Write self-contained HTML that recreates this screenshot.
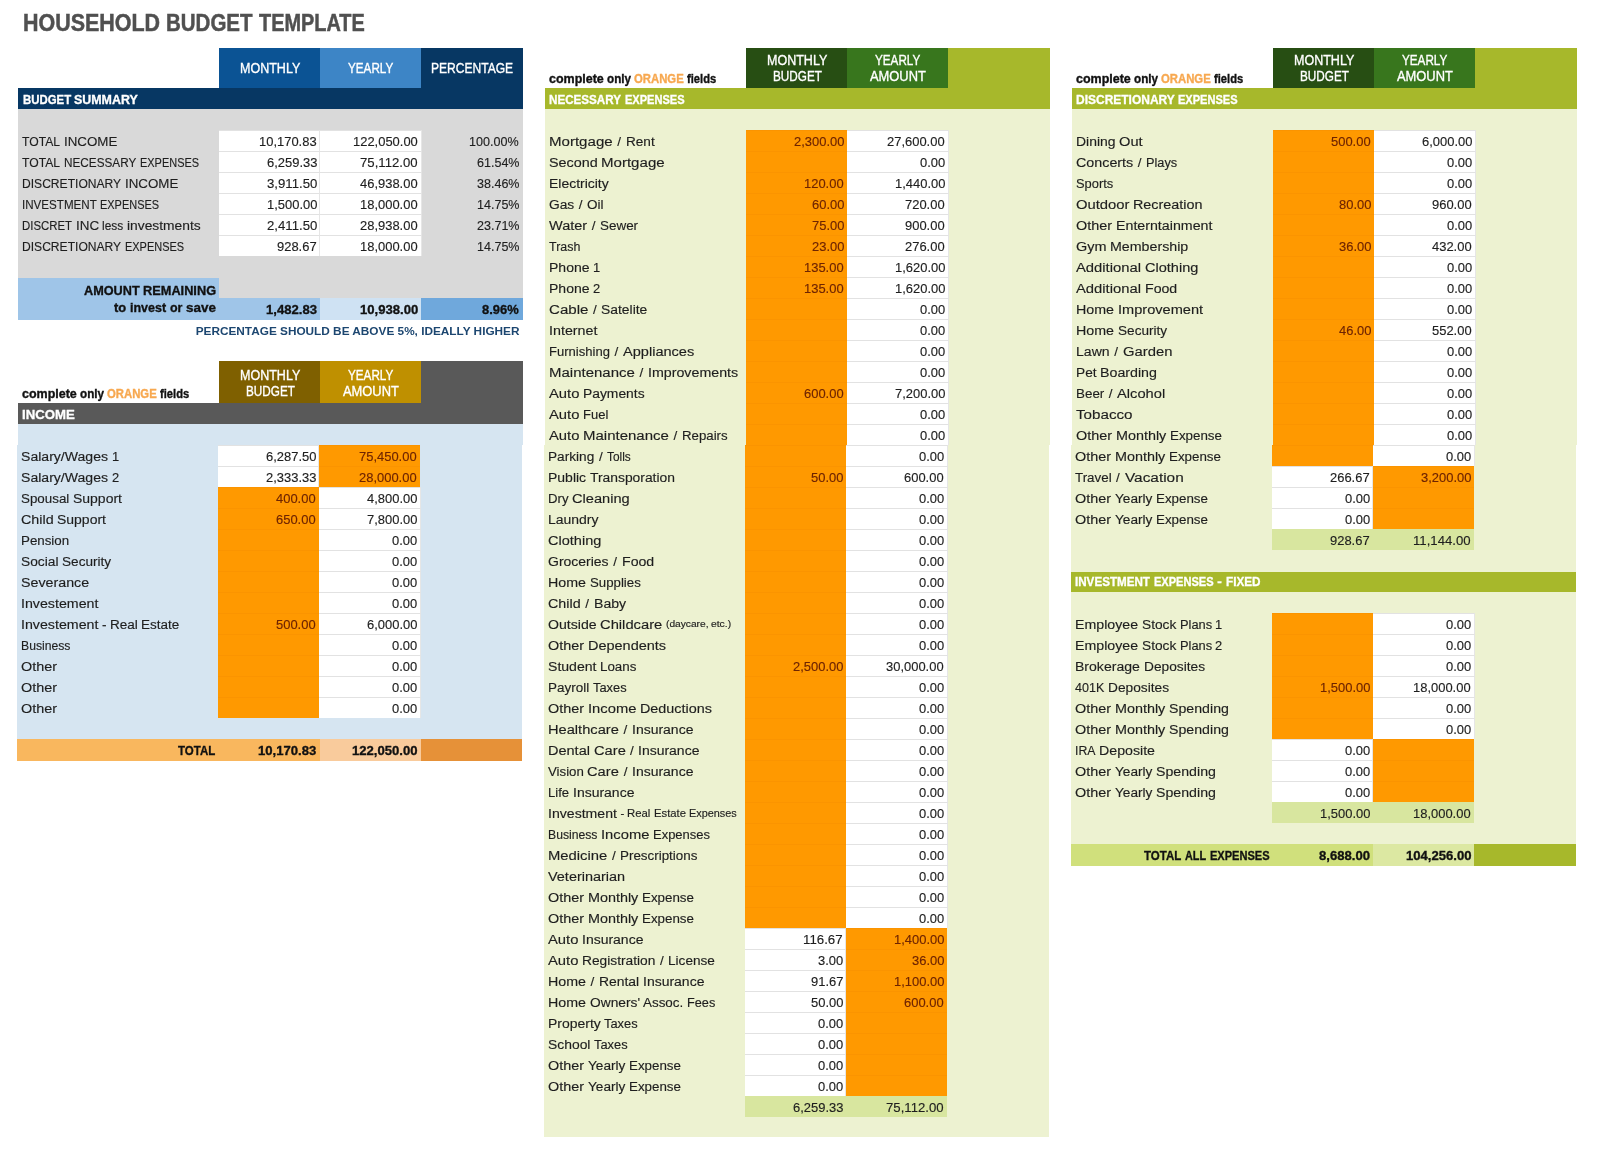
<!DOCTYPE html>
<html><head><meta charset="utf-8"><title>Household Budget Template</title>
<style>
html,body{margin:0;padding:0;background:#fff;}
body{filter:blur(0.35px);width:1600px;height:1163px;position:relative;overflow:hidden;font-family:"Liberation Sans",sans-serif;font-size:13px;color:#222;}
body>div,body>i{position:absolute;box-sizing:border-box;}
i{font-style:normal;white-space:pre;transform-origin:0 50%;}
.b{font-weight:bold;-webkit-text-stroke:0.35px}
.ti{color:#505050;-webkit-text-stroke:0.5px #505050}
.hs{-webkit-text-stroke:0.35px #fff}
.wh{color:#fff}
.lab{color:#1e1e1e;-webkit-text-stroke:0.15px}
.on{color:#6e2400;-webkit-text-stroke:0.15px}
.bk{color:#111}
.og{color:#f7a850}
.note{font-weight:bold;color:#1c4670;font-size:11.8px;text-align:right;white-space:nowrap}
.wc{background:#fff;border-top:1px solid #e2e2e2;border-right:1px solid #e6e6e6;}
.oc{background:#ff9900;border-top:1px solid #fb9400;}
</style></head>
<body>
<i class="ti b" style="left:22.5px;top:9px;line-height:28px;font-size:24px;transform:scaleX(0.894)">HOUSEHOLD</i><i class="ti b" style="left:166.2px;top:9px;line-height:28px;font-size:24px;transform:scaleX(0.854)">BUDGET</i><i class="ti b" style="left:259.3px;top:9px;line-height:28px;font-size:24px;transform:scaleX(0.829)">TEMPLATE</i>
<div style="left:219px;top:48px;width:101px;height:40px;background:#0b5394"></div>
<div style="left:320px;top:48px;width:101px;height:40px;background:#3d85c6"></div>
<div style="left:421px;top:48px;width:102px;height:40px;background:#073763"></div>
<div style="left:18px;top:88px;width:505px;height:21px;background:#073763"></div>
<div style="left:18px;top:109px;width:505px;height:211px;background:#d9d9d9"></div>
<i class="wh hs" style="left:240.4px;top:48px;line-height:40px;font-size:14px;transform:scaleX(0.894)">MONTHLY</i>
<i class="wh hs" style="left:347.8px;top:48px;line-height:40px;font-size:14px;transform:scaleX(0.836)">YEARLY</i>
<i class="wh hs" style="left:431.4px;top:48px;line-height:40px;font-size:14px;transform:scaleX(0.861)">PERCENTAGE</i>
<i class="wh b" style="left:22.5px;top:89px;line-height:21px;font-size:13.49px;transform:scaleX(0.845)">BUDGET</i><i class="wh b" style="left:74.2px;top:89px;line-height:21px;font-size:13.49px;transform:scaleX(0.921)">SUMMARY</i>
<div class="wc" style="left:219px;top:130px;width:101px;height:21px"></div>
<div class="wc" style="left:320px;top:130px;width:102px;height:21px"></div>
<i class="lab" style="left:22.0px;top:131px;line-height:21px;font-size:13.49px;transform:scaleX(0.900)">TOTAL</i><i class="lab" style="left:63.6px;top:131px;line-height:21px;font-size:13.49px;transform:scaleX(0.989)">INCOME</i>
<i class="lab" style="left:259.4px;top:131px;line-height:21px;font-size:13.49px;transform:scaleX(0.960)">10,170.83</i>
<i class="lab" style="left:353.2px;top:131px;line-height:21px;font-size:13.49px;transform:scaleX(0.960)">122,050.00</i>
<i class="lab" style="left:469.3px;top:131px;line-height:21px;font-size:13.49px;transform:scaleX(0.933)">100.00%</i>
<div class="wc" style="left:219px;top:151px;width:101px;height:21px"></div>
<div class="wc" style="left:320px;top:151px;width:102px;height:21px"></div>
<i class="lab" style="left:22.0px;top:152px;line-height:21px;font-size:13.49px;transform:scaleX(0.900)">TOTAL</i><i class="lab" style="left:63.6px;top:152px;line-height:21px;font-size:13.49px;transform:scaleX(0.871)">NECESSARY</i><i class="lab" style="left:139.5px;top:152px;line-height:21px;font-size:13.49px;transform:scaleX(0.813)">EXPENSES</i>
<i class="lab" style="left:266.6px;top:152px;line-height:21px;font-size:13.49px;transform:scaleX(0.960)">6,259.33</i>
<i class="lab" style="left:360.4px;top:152px;line-height:21px;font-size:13.49px;transform:scaleX(0.977)">75,112.00</i>
<i class="lab" style="left:476.5px;top:152px;line-height:21px;font-size:13.49px;transform:scaleX(0.929)">61.54%</i>
<div class="wc" style="left:219px;top:172px;width:101px;height:21px"></div>
<div class="wc" style="left:320px;top:172px;width:102px;height:21px"></div>
<i class="lab" style="left:22.0px;top:173px;line-height:21px;font-size:13.49px;transform:scaleX(0.896)">DISCRETIONARY</i><i class="lab" style="left:124.7px;top:173px;line-height:21px;font-size:13.49px;transform:scaleX(0.989)">INCOME</i>
<i class="lab" style="left:266.6px;top:173px;line-height:21px;font-size:13.49px;transform:scaleX(0.979)">3,911.50</i>
<i class="lab" style="left:360.4px;top:173px;line-height:21px;font-size:13.49px;transform:scaleX(0.960)">46,938.00</i>
<i class="lab" style="left:476.5px;top:173px;line-height:21px;font-size:13.49px;transform:scaleX(0.929)">38.46%</i>
<div class="wc" style="left:219px;top:193px;width:101px;height:21px"></div>
<div class="wc" style="left:320px;top:193px;width:102px;height:21px"></div>
<i class="lab" style="left:22.0px;top:194px;line-height:21px;font-size:13.49px;transform:scaleX(0.860)">INVESTMENT</i><i class="lab" style="left:100.3px;top:194px;line-height:21px;font-size:13.49px;transform:scaleX(0.813)">EXPENSES</i>
<i class="lab" style="left:266.6px;top:194px;line-height:21px;font-size:13.49px;transform:scaleX(0.960)">1,500.00</i>
<i class="lab" style="left:360.4px;top:194px;line-height:21px;font-size:13.49px;transform:scaleX(0.960)">18,000.00</i>
<i class="lab" style="left:476.5px;top:194px;line-height:21px;font-size:13.49px;transform:scaleX(0.929)">14.75%</i>
<div class="wc" style="left:219px;top:214px;width:101px;height:21px"></div>
<div class="wc" style="left:320px;top:214px;width:102px;height:21px"></div>
<i class="lab" style="left:22.0px;top:215px;line-height:21px;font-size:13.49px;transform:scaleX(0.846)">DISCRET</i><i class="lab" style="left:75.7px;top:215px;line-height:21px;font-size:13.49px;transform:scaleX(0.995)">INC</i><i class="lab" style="left:102.4px;top:215px;line-height:21px;font-size:13.49px;transform:scaleX(0.881)">less</i><i class="lab" style="left:127.1px;top:215px;line-height:21px;font-size:13.49px;transform:scaleX(1.024)">investments</i>
<i class="lab" style="left:266.6px;top:215px;line-height:21px;font-size:13.49px;transform:scaleX(0.979)">2,411.50</i>
<i class="lab" style="left:360.4px;top:215px;line-height:21px;font-size:13.49px;transform:scaleX(0.960)">28,938.00</i>
<i class="lab" style="left:476.5px;top:215px;line-height:21px;font-size:13.49px;transform:scaleX(0.929)">23.71%</i>
<div class="wc" style="left:219px;top:235px;width:101px;height:21px"></div>
<div class="wc" style="left:320px;top:235px;width:102px;height:21px"></div>
<i class="lab" style="left:22.0px;top:236px;line-height:21px;font-size:13.49px;transform:scaleX(0.896)">DISCRETIONARY</i><i class="lab" style="left:124.7px;top:236px;line-height:21px;font-size:13.49px;transform:scaleX(0.813)">EXPENSES</i>
<i class="lab" style="left:277.4px;top:236px;line-height:21px;font-size:13.49px;transform:scaleX(0.960)">928.67</i>
<i class="lab" style="left:360.4px;top:236px;line-height:21px;font-size:13.49px;transform:scaleX(0.960)">18,000.00</i>
<i class="lab" style="left:476.5px;top:236px;line-height:21px;font-size:13.49px;transform:scaleX(0.929)">14.75%</i>
<div style="left:18px;top:278px;width:201px;height:42px;background:#9fc5e8"></div>
<div style="left:219px;top:298px;width:101px;height:22px;background:#9fc5e8"></div>
<div style="left:320px;top:298px;width:101px;height:22px;background:#cfe2f3"></div>
<div style="left:421px;top:298px;width:102px;height:22px;background:#6fa8dc"></div>
<i class="bk b" style="left:83.7px;top:281px;line-height:19px;font-size:13.49px;transform:scaleX(0.940)">AMOUNT</i><i class="bk b" style="left:142.9px;top:281px;line-height:19px;font-size:13.49px;transform:scaleX(0.947)">REMAINING</i>
<i class="bk b" style="left:114.3px;top:298px;line-height:19px;font-size:13.49px;transform:scaleX(0.960)">to</i><i class="bk b" style="left:130.2px;top:298px;line-height:19px;font-size:13.49px;transform:scaleX(0.927)">invest</i><i class="bk b" style="left:170.0px;top:298px;line-height:19px;font-size:13.49px;transform:scaleX(0.924)">or</i><i class="bk b" style="left:186.1px;top:298px;line-height:19px;font-size:13.49px;transform:scaleX(0.997)">save</i>
<i class="bk b" style="left:266.0px;top:299px;line-height:21px;font-size:13.49px;transform:scaleX(0.971)">1,482.83</i>
<i class="bk b" style="left:359.8px;top:299px;line-height:21px;font-size:13.49px;transform:scaleX(0.971)">10,938.00</i>
<i class="bk b" style="left:482.3px;top:299px;line-height:21px;font-size:13.49px;transform:scaleX(0.959)">8.96%</i>
<div class="note" style="left:150px;top:321px;width:369.5px;height:20px;line-height:20px">PERCENTAGE SHOULD BE ABOVE 5%, IDEALLY HIGHER</div>
<div style="left:219px;top:361px;width:101px;height:42px;background:#7f6000"></div>
<div style="left:320px;top:361px;width:101px;height:42px;background:#bf9000"></div>
<div style="left:421px;top:361px;width:102px;height:42px;background:#595959"></div>
<div style="left:18px;top:403px;width:505px;height:21px;background:#595959"></div>
<div style="left:18px;top:424px;width:505px;height:21px;background:#d6e5f1"></div>
<div style="left:17px;top:445px;width:505px;height:294px;background:#d6e5f1"></div>
<i class="wh hs" style="left:240.4px;top:367px;line-height:17px;font-size:14px;transform:scaleX(0.894)">MONTHLY</i>
<i class="wh hs" style="left:246.0px;top:383px;line-height:17px;font-size:14px;transform:scaleX(0.838)">BUDGET</i>
<i class="wh hs" style="left:347.8px;top:367px;line-height:17px;font-size:14px;transform:scaleX(0.836)">YEARLY</i>
<i class="wh hs" style="left:342.6px;top:383px;line-height:17px;font-size:14px;transform:scaleX(0.921)">AMOUNT</i>
<i class="bk b" style="left:21.5px;top:385px;line-height:18px;font-size:12.1px;transform:scaleX(1.032)">complete</i><i class="bk b" style="left:79.6px;top:385px;line-height:18px;font-size:12.1px;transform:scaleX(0.966)">only</i><i class="og b" style="left:106.9px;top:385px;line-height:18px;font-size:12.1px;transform:scaleX(0.936)">ORANGE</i><i class="bk b" style="left:159.8px;top:385px;line-height:18px;font-size:12.1px;transform:scaleX(0.923)">fields</i>
<i class="wh b" style="left:22.0px;top:404px;line-height:21px;font-size:13.49px;transform:scaleX(0.978)">INCOME</i>
<div class="wc" style="left:218px;top:445px;width:101px;height:21px"></div>
<div class="oc" style="left:319px;top:445px;width:101px;height:21px"></div>
<i class="lab" style="left:21.0px;top:446px;line-height:21px;font-size:13.49px;transform:scaleX(1.043)">Salary/Wages</i><i class="lab" style="left:111.6px;top:446px;line-height:21px;font-size:13.49px;transform:scaleX(0.960)">1</i>
<i class="lab" style="left:265.6px;top:446px;line-height:21px;font-size:13.49px;transform:scaleX(0.960)">6,287.50</i>
<i class="on" style="left:359.4px;top:446px;line-height:21px;font-size:13.49px;transform:scaleX(0.960)">75,450.00</i>
<div class="wc" style="left:218px;top:466px;width:101px;height:21px"></div>
<div class="oc" style="left:319px;top:466px;width:101px;height:21px"></div>
<i class="lab" style="left:21.0px;top:467px;line-height:21px;font-size:13.49px;transform:scaleX(1.043)">Salary/Wages</i><i class="lab" style="left:111.6px;top:467px;line-height:21px;font-size:13.49px;transform:scaleX(0.960)">2</i>
<i class="lab" style="left:265.6px;top:467px;line-height:21px;font-size:13.49px;transform:scaleX(0.960)">2,333.33</i>
<i class="on" style="left:359.4px;top:467px;line-height:21px;font-size:13.49px;transform:scaleX(0.960)">28,000.00</i>
<div class="oc" style="left:218px;top:487px;width:101px;height:21px"></div>
<div class="wc" style="left:319px;top:487px;width:102px;height:21px"></div>
<i class="lab" style="left:21.0px;top:488px;line-height:21px;font-size:13.49px;transform:scaleX(0.991)">Spousal</i><i class="lab" style="left:72.9px;top:488px;line-height:21px;font-size:13.49px;transform:scaleX(1.036)">Support</i>
<i class="on" style="left:276.4px;top:488px;line-height:21px;font-size:13.49px;transform:scaleX(0.960)">400.00</i>
<i class="lab" style="left:366.6px;top:488px;line-height:21px;font-size:13.49px;transform:scaleX(0.960)">4,800.00</i>
<div class="oc" style="left:218px;top:508px;width:101px;height:21px"></div>
<div class="wc" style="left:319px;top:508px;width:102px;height:21px"></div>
<i class="lab" style="left:21.0px;top:509px;line-height:21px;font-size:13.49px;transform:scaleX(1.061)">Child</i><i class="lab" style="left:57.2px;top:509px;line-height:21px;font-size:13.49px;transform:scaleX(1.036)">Support</i>
<i class="on" style="left:276.4px;top:509px;line-height:21px;font-size:13.49px;transform:scaleX(0.960)">650.00</i>
<i class="lab" style="left:366.6px;top:509px;line-height:21px;font-size:13.49px;transform:scaleX(0.960)">7,800.00</i>
<div class="oc" style="left:218px;top:529px;width:101px;height:21px"></div>
<div class="wc" style="left:319px;top:529px;width:102px;height:21px"></div>
<i class="lab" style="left:21.0px;top:530px;line-height:21px;font-size:13.49px;transform:scaleX(0.988)">Pension</i>
<i class="lab" style="left:391.8px;top:530px;line-height:21px;font-size:13.49px;transform:scaleX(0.960)">0.00</i>
<div class="oc" style="left:218px;top:550px;width:101px;height:21px"></div>
<div class="wc" style="left:319px;top:550px;width:102px;height:21px"></div>
<i class="lab" style="left:21.0px;top:551px;line-height:21px;font-size:13.49px;transform:scaleX(1.020)">Social</i><i class="lab" style="left:62.1px;top:551px;line-height:21px;font-size:13.49px;transform:scaleX(1.008)">Security</i>
<i class="lab" style="left:391.8px;top:551px;line-height:21px;font-size:13.49px;transform:scaleX(0.960)">0.00</i>
<div class="oc" style="left:218px;top:571px;width:101px;height:21px"></div>
<div class="wc" style="left:319px;top:571px;width:102px;height:21px"></div>
<i class="lab" style="left:21.0px;top:572px;line-height:21px;font-size:13.49px;transform:scaleX(1.057)">Severance</i>
<i class="lab" style="left:391.8px;top:572px;line-height:21px;font-size:13.49px;transform:scaleX(0.960)">0.00</i>
<div class="oc" style="left:218px;top:592px;width:101px;height:21px"></div>
<div class="wc" style="left:319px;top:592px;width:102px;height:21px"></div>
<i class="lab" style="left:21.0px;top:593px;line-height:21px;font-size:13.49px;transform:scaleX(1.054)">Investement</i>
<i class="lab" style="left:391.8px;top:593px;line-height:21px;font-size:13.49px;transform:scaleX(0.960)">0.00</i>
<div class="oc" style="left:218px;top:613px;width:101px;height:21px"></div>
<div class="wc" style="left:319px;top:613px;width:102px;height:21px"></div>
<i class="lab" style="left:21.0px;top:614px;line-height:21px;font-size:13.49px;transform:scaleX(1.054)">Investement</i><i class="lab" style="left:101.9px;top:614px;line-height:21px;font-size:13.49px;transform:scaleX(1.000)">-</i><i class="lab" style="left:109.9px;top:614px;line-height:21px;font-size:13.49px;transform:scaleX(1.003)">Real</i><i class="lab" style="left:141.3px;top:614px;line-height:21px;font-size:13.49px;transform:scaleX(0.998)">Estate</i>
<i class="on" style="left:276.4px;top:614px;line-height:21px;font-size:13.49px;transform:scaleX(0.960)">500.00</i>
<i class="lab" style="left:366.6px;top:614px;line-height:21px;font-size:13.49px;transform:scaleX(0.960)">6,000.00</i>
<div class="oc" style="left:218px;top:634px;width:101px;height:21px"></div>
<div class="wc" style="left:319px;top:634px;width:102px;height:21px"></div>
<i class="lab" style="left:21.0px;top:635px;line-height:21px;font-size:13.49px;transform:scaleX(0.904)">Business</i>
<i class="lab" style="left:391.8px;top:635px;line-height:21px;font-size:13.49px;transform:scaleX(0.960)">0.00</i>
<div class="oc" style="left:218px;top:655px;width:101px;height:21px"></div>
<div class="wc" style="left:319px;top:655px;width:102px;height:21px"></div>
<i class="lab" style="left:21.0px;top:656px;line-height:21px;font-size:13.49px;transform:scaleX(1.067)">Other</i>
<i class="lab" style="left:391.8px;top:656px;line-height:21px;font-size:13.49px;transform:scaleX(0.960)">0.00</i>
<div class="oc" style="left:218px;top:676px;width:101px;height:21px"></div>
<div class="wc" style="left:319px;top:676px;width:102px;height:21px"></div>
<i class="lab" style="left:21.0px;top:677px;line-height:21px;font-size:13.49px;transform:scaleX(1.067)">Other</i>
<i class="lab" style="left:391.8px;top:677px;line-height:21px;font-size:13.49px;transform:scaleX(0.960)">0.00</i>
<div class="oc" style="left:218px;top:697px;width:101px;height:21px"></div>
<div class="wc" style="left:319px;top:697px;width:102px;height:21px"></div>
<i class="lab" style="left:21.0px;top:698px;line-height:21px;font-size:13.49px;transform:scaleX(1.067)">Other</i>
<i class="lab" style="left:391.8px;top:698px;line-height:21px;font-size:13.49px;transform:scaleX(0.960)">0.00</i>
<div style="left:17px;top:739px;width:303px;height:22px;background:#f9b75e"></div>
<div style="left:320px;top:739px;width:101px;height:22px;background:#f9cb9c"></div>
<div style="left:421px;top:739px;width:101px;height:22px;background:#e69138"></div>
<i class="bk b" style="left:177.8px;top:740px;line-height:21px;font-size:13.49px;transform:scaleX(0.851)">TOTAL</i>
<i class="bk b" style="left:257.8px;top:740px;line-height:21px;font-size:13.49px;transform:scaleX(0.971)">10,170.83</i>
<i class="bk b" style="left:351.5px;top:740px;line-height:21px;font-size:13.49px;transform:scaleX(0.971)">122,050.00</i>
<div style="left:545px;top:109px;width:505px;height:336px;background:#edf2d1"></div>
<div style="left:544px;top:445px;width:505px;height:692px;background:#edf2d1"></div>
<div style="left:746px;top:48px;width:101px;height:40px;background:#274e13"></div>
<div style="left:847px;top:48px;width:101px;height:40px;background:#38761d"></div>
<div style="left:948px;top:48px;width:102px;height:40px;background:#a7b82b"></div>
<div style="left:545px;top:88px;width:505px;height:21px;background:#a7b82b"></div>
<i class="wh hs" style="left:767.4px;top:52px;line-height:17px;font-size:14px;transform:scaleX(0.894)">MONTHLY</i>
<i class="wh hs" style="left:773.0px;top:68px;line-height:17px;font-size:14px;transform:scaleX(0.838)">BUDGET</i>
<i class="wh hs" style="left:874.8px;top:52px;line-height:17px;font-size:14px;transform:scaleX(0.836)">YEARLY</i>
<i class="wh hs" style="left:869.6px;top:68px;line-height:17px;font-size:14px;transform:scaleX(0.921)">AMOUNT</i>
<i class="bk b" style="left:548.5px;top:70px;line-height:18px;font-size:12.1px;transform:scaleX(1.032)">complete</i><i class="bk b" style="left:606.6px;top:70px;line-height:18px;font-size:12.1px;transform:scaleX(0.966)">only</i><i class="og b" style="left:633.9px;top:70px;line-height:18px;font-size:12.1px;transform:scaleX(0.936)">ORANGE</i><i class="bk b" style="left:686.8px;top:70px;line-height:18px;font-size:12.1px;transform:scaleX(0.923)">fields</i>
<i class="wh b" style="left:549.0px;top:89px;line-height:21px;font-size:13.49px;transform:scaleX(0.863)">NECESSARY</i><i class="wh b" style="left:624.7px;top:89px;line-height:21px;font-size:13.49px;transform:scaleX(0.819)">EXPENSES</i>
<div class="oc" style="left:746px;top:130px;width:101px;height:21px"></div>
<div class="wc" style="left:847px;top:130px;width:102px;height:21px"></div>
<i class="lab" style="left:549.0px;top:131px;line-height:21px;font-size:13.49px;transform:scaleX(1.117)">Mortgage</i><i class="lab" style="left:617.2px;top:131px;line-height:21px;font-size:13.49px;transform:scaleX(1.000)">/</i><i class="lab" style="left:625.5px;top:131px;line-height:21px;font-size:13.49px;transform:scaleX(1.007)">Rent</i>
<i class="on" style="left:793.6px;top:131px;line-height:21px;font-size:13.49px;transform:scaleX(0.960)">2,300.00</i>
<i class="lab" style="left:887.4px;top:131px;line-height:21px;font-size:13.49px;transform:scaleX(0.960)">27,600.00</i>
<div class="oc" style="left:746px;top:151px;width:101px;height:21px"></div>
<div class="wc" style="left:847px;top:151px;width:102px;height:21px"></div>
<i class="lab" style="left:549.0px;top:152px;line-height:21px;font-size:13.49px;transform:scaleX(1.065)">Second</i><i class="lab" style="left:601.3px;top:152px;line-height:21px;font-size:13.49px;transform:scaleX(1.117)">Mortgage</i>
<i class="lab" style="left:919.8px;top:152px;line-height:21px;font-size:13.49px;transform:scaleX(0.960)">0.00</i>
<div class="oc" style="left:746px;top:172px;width:101px;height:21px"></div>
<div class="wc" style="left:847px;top:172px;width:102px;height:21px"></div>
<i class="lab" style="left:549.0px;top:173px;line-height:21px;font-size:13.49px;transform:scaleX(1.035)">Electricity</i>
<i class="on" style="left:804.4px;top:173px;line-height:21px;font-size:13.49px;transform:scaleX(0.960)">120.00</i>
<i class="lab" style="left:894.6px;top:173px;line-height:21px;font-size:13.49px;transform:scaleX(0.960)">1,440.00</i>
<div class="oc" style="left:746px;top:193px;width:101px;height:21px"></div>
<div class="wc" style="left:847px;top:193px;width:102px;height:21px"></div>
<i class="lab" style="left:549.0px;top:194px;line-height:21px;font-size:13.49px;transform:scaleX(1.021)">Gas</i><i class="lab" style="left:578.8px;top:194px;line-height:21px;font-size:13.49px;transform:scaleX(1.000)">/</i><i class="lab" style="left:587.1px;top:194px;line-height:21px;font-size:13.49px;transform:scaleX(1.001)">Oil</i>
<i class="on" style="left:811.6px;top:194px;line-height:21px;font-size:13.49px;transform:scaleX(0.960)">60.00</i>
<i class="lab" style="left:905.4px;top:194px;line-height:21px;font-size:13.49px;transform:scaleX(0.960)">720.00</i>
<div class="oc" style="left:746px;top:214px;width:101px;height:21px"></div>
<div class="wc" style="left:847px;top:214px;width:102px;height:21px"></div>
<i class="lab" style="left:549.0px;top:215px;line-height:21px;font-size:13.49px;transform:scaleX(1.075)">Water</i><i class="lab" style="left:591.7px;top:215px;line-height:21px;font-size:13.49px;transform:scaleX(1.000)">/</i><i class="lab" style="left:600.0px;top:215px;line-height:21px;font-size:13.49px;transform:scaleX(0.996)">Sewer</i>
<i class="on" style="left:811.6px;top:215px;line-height:21px;font-size:13.49px;transform:scaleX(0.960)">75.00</i>
<i class="lab" style="left:905.4px;top:215px;line-height:21px;font-size:13.49px;transform:scaleX(0.960)">900.00</i>
<div class="oc" style="left:746px;top:235px;width:101px;height:21px"></div>
<div class="wc" style="left:847px;top:235px;width:102px;height:21px"></div>
<i class="lab" style="left:549.0px;top:236px;line-height:21px;font-size:13.49px;transform:scaleX(0.922)">Trash</i>
<i class="on" style="left:811.6px;top:236px;line-height:21px;font-size:13.49px;transform:scaleX(0.960)">23.00</i>
<i class="lab" style="left:905.4px;top:236px;line-height:21px;font-size:13.49px;transform:scaleX(0.960)">276.00</i>
<div class="oc" style="left:746px;top:256px;width:101px;height:21px"></div>
<div class="wc" style="left:847px;top:256px;width:102px;height:21px"></div>
<i class="lab" style="left:549.0px;top:257px;line-height:21px;font-size:13.49px;transform:scaleX(1.039)">Phone</i><i class="lab" style="left:593.1px;top:257px;line-height:21px;font-size:13.49px;transform:scaleX(0.960)">1</i>
<i class="on" style="left:804.4px;top:257px;line-height:21px;font-size:13.49px;transform:scaleX(0.960)">135.00</i>
<i class="lab" style="left:894.6px;top:257px;line-height:21px;font-size:13.49px;transform:scaleX(0.960)">1,620.00</i>
<div class="oc" style="left:746px;top:277px;width:101px;height:21px"></div>
<div class="wc" style="left:847px;top:277px;width:102px;height:21px"></div>
<i class="lab" style="left:549.0px;top:278px;line-height:21px;font-size:13.49px;transform:scaleX(1.039)">Phone</i><i class="lab" style="left:593.1px;top:278px;line-height:21px;font-size:13.49px;transform:scaleX(0.960)">2</i>
<i class="on" style="left:804.4px;top:278px;line-height:21px;font-size:13.49px;transform:scaleX(0.960)">135.00</i>
<i class="lab" style="left:894.6px;top:278px;line-height:21px;font-size:13.49px;transform:scaleX(0.960)">1,620.00</i>
<div class="oc" style="left:746px;top:298px;width:101px;height:21px"></div>
<div class="wc" style="left:847px;top:298px;width:102px;height:21px"></div>
<i class="lab" style="left:549.0px;top:299px;line-height:21px;font-size:13.49px;transform:scaleX(1.117)">Cable</i><i class="lab" style="left:592.9px;top:299px;line-height:21px;font-size:13.49px;transform:scaleX(1.000)">/</i><i class="lab" style="left:601.2px;top:299px;line-height:21px;font-size:13.49px;transform:scaleX(1.029)">Satelite</i>
<i class="lab" style="left:919.8px;top:299px;line-height:21px;font-size:13.49px;transform:scaleX(0.960)">0.00</i>
<div class="oc" style="left:746px;top:319px;width:101px;height:21px"></div>
<div class="wc" style="left:847px;top:319px;width:102px;height:21px"></div>
<i class="lab" style="left:549.0px;top:320px;line-height:21px;font-size:13.49px;transform:scaleX(1.059)">Internet</i>
<i class="lab" style="left:919.8px;top:320px;line-height:21px;font-size:13.49px;transform:scaleX(0.960)">0.00</i>
<div class="oc" style="left:746px;top:340px;width:101px;height:21px"></div>
<div class="wc" style="left:847px;top:340px;width:102px;height:21px"></div>
<i class="lab" style="left:549.0px;top:341px;line-height:21px;font-size:13.49px;transform:scaleX(0.967)">Furnishing</i><i class="lab" style="left:614.5px;top:341px;line-height:21px;font-size:13.49px;transform:scaleX(1.000)">/</i><i class="lab" style="left:622.8px;top:341px;line-height:21px;font-size:13.49px;transform:scaleX(1.080)">Appliances</i>
<i class="lab" style="left:919.8px;top:341px;line-height:21px;font-size:13.49px;transform:scaleX(0.960)">0.00</i>
<div class="oc" style="left:746px;top:361px;width:101px;height:21px"></div>
<div class="wc" style="left:847px;top:361px;width:102px;height:21px"></div>
<i class="lab" style="left:549.0px;top:362px;line-height:21px;font-size:13.49px;transform:scaleX(1.111)">Maintenance</i><i class="lab" style="left:639.4px;top:362px;line-height:21px;font-size:13.49px;transform:scaleX(1.000)">/</i><i class="lab" style="left:647.7px;top:362px;line-height:21px;font-size:13.49px;transform:scaleX(1.055)">Improvements</i>
<i class="lab" style="left:919.8px;top:362px;line-height:21px;font-size:13.49px;transform:scaleX(0.960)">0.00</i>
<div class="oc" style="left:746px;top:382px;width:101px;height:21px"></div>
<div class="wc" style="left:847px;top:382px;width:102px;height:21px"></div>
<i class="lab" style="left:549.0px;top:383px;line-height:21px;font-size:13.49px;transform:scaleX(1.097)">Auto</i><i class="lab" style="left:583.0px;top:383px;line-height:21px;font-size:13.49px;transform:scaleX(1.027)">Payments</i>
<i class="on" style="left:804.4px;top:383px;line-height:21px;font-size:13.49px;transform:scaleX(0.960)">600.00</i>
<i class="lab" style="left:894.6px;top:383px;line-height:21px;font-size:13.49px;transform:scaleX(0.960)">7,200.00</i>
<div class="oc" style="left:746px;top:403px;width:101px;height:21px"></div>
<div class="wc" style="left:847px;top:403px;width:102px;height:21px"></div>
<i class="lab" style="left:549.0px;top:404px;line-height:21px;font-size:13.49px;transform:scaleX(1.097)">Auto</i><i class="lab" style="left:583.0px;top:404px;line-height:21px;font-size:13.49px;transform:scaleX(0.963)">Fuel</i>
<i class="lab" style="left:919.8px;top:404px;line-height:21px;font-size:13.49px;transform:scaleX(0.960)">0.00</i>
<div class="oc" style="left:746px;top:424px;width:101px;height:21px"></div>
<div class="wc" style="left:847px;top:424px;width:102px;height:21px"></div>
<i class="lab" style="left:549.0px;top:425px;line-height:21px;font-size:13.49px;transform:scaleX(1.097)">Auto</i><i class="lab" style="left:583.0px;top:425px;line-height:21px;font-size:13.49px;transform:scaleX(1.111)">Maintenance</i><i class="lab" style="left:673.4px;top:425px;line-height:21px;font-size:13.49px;transform:scaleX(1.000)">/</i><i class="lab" style="left:681.7px;top:425px;line-height:21px;font-size:13.49px;transform:scaleX(0.982)">Repairs</i>
<i class="lab" style="left:919.8px;top:425px;line-height:21px;font-size:13.49px;transform:scaleX(0.960)">0.00</i>
<div class="oc" style="left:745px;top:445px;width:101px;height:21px"></div>
<div class="wc" style="left:846px;top:445px;width:102px;height:21px"></div>
<i class="lab" style="left:548.0px;top:446px;line-height:21px;font-size:13.49px;transform:scaleX(1.012)">Parking</i><i class="lab" style="left:598.9px;top:446px;line-height:21px;font-size:13.49px;transform:scaleX(1.000)">/</i><i class="lab" style="left:607.2px;top:446px;line-height:21px;font-size:13.49px;transform:scaleX(0.879)">Tolls</i>
<i class="lab" style="left:918.8px;top:446px;line-height:21px;font-size:13.49px;transform:scaleX(0.960)">0.00</i>
<div class="oc" style="left:745px;top:466px;width:101px;height:21px"></div>
<div class="wc" style="left:846px;top:466px;width:102px;height:21px"></div>
<i class="lab" style="left:548.0px;top:467px;line-height:21px;font-size:13.49px;transform:scaleX(1.037)">Public</i><i class="lab" style="left:589.7px;top:467px;line-height:21px;font-size:13.49px;transform:scaleX(1.027)">Transporation</i>
<i class="on" style="left:810.6px;top:467px;line-height:21px;font-size:13.49px;transform:scaleX(0.960)">50.00</i>
<i class="lab" style="left:904.4px;top:467px;line-height:21px;font-size:13.49px;transform:scaleX(0.960)">600.00</i>
<div class="oc" style="left:745px;top:487px;width:101px;height:21px"></div>
<div class="wc" style="left:846px;top:487px;width:102px;height:21px"></div>
<i class="lab" style="left:548.0px;top:488px;line-height:21px;font-size:13.49px;transform:scaleX(0.979)">Dry</i><i class="lab" style="left:572.2px;top:488px;line-height:21px;font-size:13.49px;transform:scaleX(1.084)">Cleaning</i>
<i class="lab" style="left:918.8px;top:488px;line-height:21px;font-size:13.49px;transform:scaleX(0.960)">0.00</i>
<div class="oc" style="left:745px;top:508px;width:101px;height:21px"></div>
<div class="wc" style="left:846px;top:508px;width:102px;height:21px"></div>
<i class="lab" style="left:548.0px;top:509px;line-height:21px;font-size:13.49px;transform:scaleX(1.036)">Laundry</i>
<i class="lab" style="left:918.8px;top:509px;line-height:21px;font-size:13.49px;transform:scaleX(0.960)">0.00</i>
<div class="oc" style="left:745px;top:529px;width:101px;height:21px"></div>
<div class="wc" style="left:846px;top:529px;width:102px;height:21px"></div>
<i class="lab" style="left:548.0px;top:530px;line-height:21px;font-size:13.49px;transform:scaleX(1.077)">Clothing</i>
<i class="lab" style="left:918.8px;top:530px;line-height:21px;font-size:13.49px;transform:scaleX(0.960)">0.00</i>
<div class="oc" style="left:745px;top:550px;width:101px;height:21px"></div>
<div class="wc" style="left:846px;top:550px;width:102px;height:21px"></div>
<i class="lab" style="left:548.0px;top:551px;line-height:21px;font-size:13.49px;transform:scaleX(1.037)">Groceries</i><i class="lab" style="left:613.2px;top:551px;line-height:21px;font-size:13.49px;transform:scaleX(1.000)">/</i><i class="lab" style="left:621.5px;top:551px;line-height:21px;font-size:13.49px;transform:scaleX(1.048)">Food</i>
<i class="lab" style="left:918.8px;top:551px;line-height:21px;font-size:13.49px;transform:scaleX(0.960)">0.00</i>
<div class="oc" style="left:745px;top:571px;width:101px;height:21px"></div>
<div class="wc" style="left:846px;top:571px;width:102px;height:21px"></div>
<i class="lab" style="left:548.0px;top:572px;line-height:21px;font-size:13.49px;transform:scaleX(1.057)">Home</i><i class="lab" style="left:589.6px;top:572px;line-height:21px;font-size:13.49px;transform:scaleX(0.982)">Supplies</i>
<i class="lab" style="left:918.8px;top:572px;line-height:21px;font-size:13.49px;transform:scaleX(0.960)">0.00</i>
<div class="oc" style="left:745px;top:592px;width:101px;height:21px"></div>
<div class="wc" style="left:846px;top:592px;width:102px;height:21px"></div>
<i class="lab" style="left:548.0px;top:593px;line-height:21px;font-size:13.49px;transform:scaleX(1.061)">Child</i><i class="lab" style="left:585.2px;top:593px;line-height:21px;font-size:13.49px;transform:scaleX(1.000)">/</i><i class="lab" style="left:593.5px;top:593px;line-height:21px;font-size:13.49px;transform:scaleX(1.046)">Baby</i>
<i class="lab" style="left:918.8px;top:593px;line-height:21px;font-size:13.49px;transform:scaleX(0.960)">0.00</i>
<div class="oc" style="left:745px;top:613px;width:101px;height:21px"></div>
<div class="wc" style="left:846px;top:613px;width:102px;height:21px"></div>
<i class="lab" style="left:548.0px;top:614px;line-height:21px;font-size:13.49px;transform:scaleX(1.046)">Outside</i><i class="lab" style="left:600.2px;top:614px;line-height:21px;font-size:13.49px;transform:scaleX(1.093)">Childcare</i><i class="lab" style="left:666.1px;top:614px;line-height:21px;font-size:9.13px;transform:scaleX(1.117)">(daycare,</i><i class="lab" style="left:711.0px;top:614px;line-height:21px;font-size:9.13px;transform:scaleX(1.131)">etc.)</i>
<i class="lab" style="left:918.8px;top:614px;line-height:21px;font-size:13.49px;transform:scaleX(0.960)">0.00</i>
<div class="oc" style="left:745px;top:634px;width:101px;height:21px"></div>
<div class="wc" style="left:846px;top:634px;width:102px;height:21px"></div>
<i class="lab" style="left:548.0px;top:635px;line-height:21px;font-size:13.49px;transform:scaleX(1.067)">Other</i><i class="lab" style="left:587.6px;top:635px;line-height:21px;font-size:13.49px;transform:scaleX(1.074)">Dependents</i>
<i class="lab" style="left:918.8px;top:635px;line-height:21px;font-size:13.49px;transform:scaleX(0.960)">0.00</i>
<div class="oc" style="left:745px;top:655px;width:101px;height:21px"></div>
<div class="wc" style="left:846px;top:655px;width:102px;height:21px"></div>
<i class="lab" style="left:548.0px;top:656px;line-height:21px;font-size:13.49px;transform:scaleX(1.043)">Student</i><i class="lab" style="left:600.1px;top:656px;line-height:21px;font-size:13.49px;transform:scaleX(0.990)">Loans</i>
<i class="on" style="left:792.6px;top:656px;line-height:21px;font-size:13.49px;transform:scaleX(0.960)">2,500.00</i>
<i class="lab" style="left:886.4px;top:656px;line-height:21px;font-size:13.49px;transform:scaleX(0.960)">30,000.00</i>
<div class="oc" style="left:745px;top:676px;width:101px;height:21px"></div>
<div class="wc" style="left:846px;top:676px;width:102px;height:21px"></div>
<i class="lab" style="left:548.0px;top:677px;line-height:21px;font-size:13.49px;transform:scaleX(0.999)">Payroll</i><i class="lab" style="left:592.8px;top:677px;line-height:21px;font-size:13.49px;transform:scaleX(0.953)">Taxes</i>
<i class="lab" style="left:918.8px;top:677px;line-height:21px;font-size:13.49px;transform:scaleX(0.960)">0.00</i>
<div class="oc" style="left:745px;top:697px;width:101px;height:21px"></div>
<div class="wc" style="left:846px;top:697px;width:102px;height:21px"></div>
<i class="lab" style="left:548.0px;top:698px;line-height:21px;font-size:13.49px;transform:scaleX(1.067)">Other</i><i class="lab" style="left:587.6px;top:698px;line-height:21px;font-size:13.49px;transform:scaleX(1.095)">Income</i><i class="lab" style="left:639.6px;top:698px;line-height:21px;font-size:13.49px;transform:scaleX(1.065)">Deductions</i>
<i class="lab" style="left:918.8px;top:698px;line-height:21px;font-size:13.49px;transform:scaleX(0.960)">0.00</i>
<div class="oc" style="left:745px;top:718px;width:101px;height:21px"></div>
<div class="wc" style="left:846px;top:718px;width:102px;height:21px"></div>
<i class="lab" style="left:548.0px;top:719px;line-height:21px;font-size:13.49px;transform:scaleX(1.086)">Healthcare</i><i class="lab" style="left:623.4px;top:719px;line-height:21px;font-size:13.49px;transform:scaleX(1.000)">/</i><i class="lab" style="left:631.7px;top:719px;line-height:21px;font-size:13.49px;transform:scaleX(1.037)">Insurance</i>
<i class="lab" style="left:918.8px;top:719px;line-height:21px;font-size:13.49px;transform:scaleX(0.960)">0.00</i>
<div class="oc" style="left:745px;top:739px;width:101px;height:21px"></div>
<div class="wc" style="left:846px;top:739px;width:102px;height:21px"></div>
<i class="lab" style="left:548.0px;top:740px;line-height:21px;font-size:13.49px;transform:scaleX(1.076)">Dental</i><i class="lab" style="left:593.5px;top:740px;line-height:21px;font-size:13.49px;transform:scaleX(1.088)">Care</i><i class="lab" style="left:629.9px;top:740px;line-height:21px;font-size:13.49px;transform:scaleX(1.000)">/</i><i class="lab" style="left:638.2px;top:740px;line-height:21px;font-size:13.49px;transform:scaleX(1.037)">Insurance</i>
<i class="lab" style="left:918.8px;top:740px;line-height:21px;font-size:13.49px;transform:scaleX(0.960)">0.00</i>
<div class="oc" style="left:745px;top:760px;width:101px;height:21px"></div>
<div class="wc" style="left:846px;top:760px;width:102px;height:21px"></div>
<i class="lab" style="left:548.0px;top:761px;line-height:21px;font-size:13.49px;transform:scaleX(0.982)">Vision</i><i class="lab" style="left:587.4px;top:761px;line-height:21px;font-size:13.49px;transform:scaleX(1.088)">Care</i><i class="lab" style="left:623.8px;top:761px;line-height:21px;font-size:13.49px;transform:scaleX(1.000)">/</i><i class="lab" style="left:632.1px;top:761px;line-height:21px;font-size:13.49px;transform:scaleX(1.037)">Insurance</i>
<i class="lab" style="left:918.8px;top:761px;line-height:21px;font-size:13.49px;transform:scaleX(0.960)">0.00</i>
<div class="oc" style="left:745px;top:781px;width:101px;height:21px"></div>
<div class="wc" style="left:846px;top:781px;width:102px;height:21px"></div>
<i class="lab" style="left:548.0px;top:782px;line-height:21px;font-size:13.49px;transform:scaleX(0.972)">Life</i><i class="lab" style="left:572.7px;top:782px;line-height:21px;font-size:13.49px;transform:scaleX(1.037)">Insurance</i>
<i class="lab" style="left:918.8px;top:782px;line-height:21px;font-size:13.49px;transform:scaleX(0.960)">0.00</i>
<div class="oc" style="left:745px;top:802px;width:101px;height:21px"></div>
<div class="wc" style="left:846px;top:802px;width:102px;height:21px"></div>
<i class="lab" style="left:548.0px;top:803px;line-height:21px;font-size:13.49px;transform:scaleX(1.045)">Investment</i><i class="lab" style="left:620.5px;top:803px;line-height:21px;font-size:11.31px;transform:scaleX(1.000)">-</i><i class="lab" style="left:627.2px;top:803px;line-height:21px;font-size:11.31px;transform:scaleX(1.004)">Real</i><i class="lab" style="left:653.5px;top:803px;line-height:21px;font-size:11.31px;transform:scaleX(0.999)">Estate</i><i class="lab" style="left:688.5px;top:803px;line-height:21px;font-size:11.31px;transform:scaleX(0.963)">Expenses</i>
<i class="lab" style="left:918.8px;top:803px;line-height:21px;font-size:13.49px;transform:scaleX(0.960)">0.00</i>
<div class="oc" style="left:745px;top:823px;width:101px;height:21px"></div>
<div class="wc" style="left:846px;top:823px;width:102px;height:21px"></div>
<i class="lab" style="left:548.0px;top:824px;line-height:21px;font-size:13.49px;transform:scaleX(0.904)">Business</i><i class="lab" style="left:601.1px;top:824px;line-height:21px;font-size:13.49px;transform:scaleX(1.095)">Income</i><i class="lab" style="left:653.1px;top:824px;line-height:21px;font-size:13.49px;transform:scaleX(0.962)">Expenses</i>
<i class="lab" style="left:918.8px;top:824px;line-height:21px;font-size:13.49px;transform:scaleX(0.960)">0.00</i>
<div class="oc" style="left:745px;top:844px;width:101px;height:21px"></div>
<div class="wc" style="left:846px;top:844px;width:102px;height:21px"></div>
<i class="lab" style="left:548.0px;top:845px;line-height:21px;font-size:13.49px;transform:scaleX(1.099)">Medicine</i><i class="lab" style="left:611.9px;top:845px;line-height:21px;font-size:13.49px;transform:scaleX(1.000)">/</i><i class="lab" style="left:620.2px;top:845px;line-height:21px;font-size:13.49px;transform:scaleX(0.993)">Prescriptions</i>
<i class="lab" style="left:918.8px;top:845px;line-height:21px;font-size:13.49px;transform:scaleX(0.960)">0.00</i>
<div class="oc" style="left:745px;top:865px;width:101px;height:21px"></div>
<div class="wc" style="left:846px;top:865px;width:102px;height:21px"></div>
<i class="lab" style="left:548.0px;top:866px;line-height:21px;font-size:13.49px;transform:scaleX(1.071)">Veterinarian</i>
<i class="lab" style="left:918.8px;top:866px;line-height:21px;font-size:13.49px;transform:scaleX(0.960)">0.00</i>
<div class="oc" style="left:745px;top:886px;width:101px;height:21px"></div>
<div class="wc" style="left:846px;top:886px;width:102px;height:21px"></div>
<i class="lab" style="left:548.0px;top:887px;line-height:21px;font-size:13.49px;transform:scaleX(1.067)">Other</i><i class="lab" style="left:587.6px;top:887px;line-height:21px;font-size:13.49px;transform:scaleX(1.065)">Monthly</i><i class="lab" style="left:641.5px;top:887px;line-height:21px;font-size:13.49px;transform:scaleX(0.990)">Expense</i>
<i class="lab" style="left:918.8px;top:887px;line-height:21px;font-size:13.49px;transform:scaleX(0.960)">0.00</i>
<div class="oc" style="left:745px;top:907px;width:101px;height:21px"></div>
<div class="wc" style="left:846px;top:907px;width:102px;height:21px"></div>
<i class="lab" style="left:548.0px;top:908px;line-height:21px;font-size:13.49px;transform:scaleX(1.067)">Other</i><i class="lab" style="left:587.6px;top:908px;line-height:21px;font-size:13.49px;transform:scaleX(1.065)">Monthly</i><i class="lab" style="left:641.5px;top:908px;line-height:21px;font-size:13.49px;transform:scaleX(0.990)">Expense</i>
<i class="lab" style="left:918.8px;top:908px;line-height:21px;font-size:13.49px;transform:scaleX(0.960)">0.00</i>
<div class="wc" style="left:745px;top:928px;width:101px;height:21px"></div>
<div class="oc" style="left:846px;top:928px;width:101px;height:21px"></div>
<i class="lab" style="left:548.0px;top:929px;line-height:21px;font-size:13.49px;transform:scaleX(1.097)">Auto</i><i class="lab" style="left:582.0px;top:929px;line-height:21px;font-size:13.49px;transform:scaleX(1.037)">Insurance</i>
<i class="lab" style="left:803.4px;top:929px;line-height:21px;font-size:13.49px;transform:scaleX(0.984)">116.67</i>
<i class="on" style="left:893.6px;top:929px;line-height:21px;font-size:13.49px;transform:scaleX(0.960)">1,400.00</i>
<div class="wc" style="left:745px;top:949px;width:101px;height:21px"></div>
<div class="oc" style="left:846px;top:949px;width:101px;height:21px"></div>
<i class="lab" style="left:548.0px;top:950px;line-height:21px;font-size:13.49px;transform:scaleX(1.097)">Auto</i><i class="lab" style="left:582.0px;top:950px;line-height:21px;font-size:13.49px;transform:scaleX(1.020)">Registration</i><i class="lab" style="left:660.0px;top:950px;line-height:21px;font-size:13.49px;transform:scaleX(1.000)">/</i><i class="lab" style="left:668.3px;top:950px;line-height:21px;font-size:13.49px;transform:scaleX(1.009)">License</i>
<i class="lab" style="left:817.8px;top:950px;line-height:21px;font-size:13.49px;transform:scaleX(0.960)">3.00</i>
<i class="on" style="left:911.6px;top:950px;line-height:21px;font-size:13.49px;transform:scaleX(0.960)">36.00</i>
<div class="wc" style="left:745px;top:970px;width:101px;height:21px"></div>
<div class="oc" style="left:846px;top:970px;width:101px;height:21px"></div>
<i class="lab" style="left:548.0px;top:971px;line-height:21px;font-size:13.49px;transform:scaleX(1.057)">Home</i><i class="lab" style="left:590.6px;top:971px;line-height:21px;font-size:13.49px;transform:scaleX(1.000)">/</i><i class="lab" style="left:598.9px;top:971px;line-height:21px;font-size:13.49px;transform:scaleX(1.030)">Rental</i><i class="lab" style="left:642.7px;top:971px;line-height:21px;font-size:13.49px;transform:scaleX(1.037)">Insurance</i>
<i class="lab" style="left:810.6px;top:971px;line-height:21px;font-size:13.49px;transform:scaleX(0.960)">91.67</i>
<i class="on" style="left:893.6px;top:971px;line-height:21px;font-size:13.49px;transform:scaleX(0.960)">1,100.00</i>
<div class="wc" style="left:745px;top:991px;width:101px;height:21px"></div>
<div class="oc" style="left:846px;top:991px;width:101px;height:21px"></div>
<i class="lab" style="left:548.0px;top:992px;line-height:21px;font-size:13.49px;transform:scaleX(1.057)">Home</i><i class="lab" style="left:589.6px;top:992px;line-height:21px;font-size:13.49px;transform:scaleX(1.020)">Owners'</i><i class="lab" style="left:643.3px;top:992px;line-height:21px;font-size:13.49px;transform:scaleX(0.994)">Assoc.</i><i class="lab" style="left:687.1px;top:992px;line-height:21px;font-size:13.49px;transform:scaleX(0.942)">Fees</i>
<i class="lab" style="left:810.6px;top:992px;line-height:21px;font-size:13.49px;transform:scaleX(0.960)">50.00</i>
<i class="on" style="left:904.4px;top:992px;line-height:21px;font-size:13.49px;transform:scaleX(0.960)">600.00</i>
<div class="wc" style="left:745px;top:1012px;width:101px;height:21px"></div>
<div class="oc" style="left:846px;top:1012px;width:101px;height:21px"></div>
<i class="lab" style="left:548.0px;top:1013px;line-height:21px;font-size:13.49px;transform:scaleX(1.035)">Property</i><i class="lab" style="left:604.3px;top:1013px;line-height:21px;font-size:13.49px;transform:scaleX(0.953)">Taxes</i>
<i class="lab" style="left:817.8px;top:1013px;line-height:21px;font-size:13.49px;transform:scaleX(0.960)">0.00</i>
<div class="wc" style="left:745px;top:1033px;width:101px;height:21px"></div>
<div class="oc" style="left:846px;top:1033px;width:101px;height:21px"></div>
<i class="lab" style="left:548.0px;top:1034px;line-height:21px;font-size:13.49px;transform:scaleX(1.029)">School</i><i class="lab" style="left:594.0px;top:1034px;line-height:21px;font-size:13.49px;transform:scaleX(0.953)">Taxes</i>
<i class="lab" style="left:817.8px;top:1034px;line-height:21px;font-size:13.49px;transform:scaleX(0.960)">0.00</i>
<div class="wc" style="left:745px;top:1054px;width:101px;height:21px"></div>
<div class="oc" style="left:846px;top:1054px;width:101px;height:21px"></div>
<i class="lab" style="left:548.0px;top:1055px;line-height:21px;font-size:13.49px;transform:scaleX(1.067)">Other</i><i class="lab" style="left:587.6px;top:1055px;line-height:21px;font-size:13.49px;transform:scaleX(1.011)">Yearly</i><i class="lab" style="left:628.6px;top:1055px;line-height:21px;font-size:13.49px;transform:scaleX(0.990)">Expense</i>
<i class="lab" style="left:817.8px;top:1055px;line-height:21px;font-size:13.49px;transform:scaleX(0.960)">0.00</i>
<div class="wc" style="left:745px;top:1075px;width:101px;height:21px"></div>
<div class="oc" style="left:846px;top:1075px;width:101px;height:21px"></div>
<i class="lab" style="left:548.0px;top:1076px;line-height:21px;font-size:13.49px;transform:scaleX(1.067)">Other</i><i class="lab" style="left:587.6px;top:1076px;line-height:21px;font-size:13.49px;transform:scaleX(1.011)">Yearly</i><i class="lab" style="left:628.6px;top:1076px;line-height:21px;font-size:13.49px;transform:scaleX(0.990)">Expense</i>
<i class="lab" style="left:817.8px;top:1076px;line-height:21px;font-size:13.49px;transform:scaleX(0.960)">0.00</i>
<div style="left:745px;top:1096px;width:202px;height:21px;background:#d8e69f"></div>
<i class="lab" style="left:792.6px;top:1097px;line-height:21px;font-size:13.49px;transform:scaleX(0.960)">6,259.33</i>
<i class="lab" style="left:886.4px;top:1097px;line-height:21px;font-size:13.49px;transform:scaleX(0.977)">75,112.00</i>
<div style="left:1072px;top:109px;width:505px;height:336px;background:#edf2d1"></div>
<div style="left:1071px;top:445px;width:505px;height:400px;background:#edf2d1"></div>
<div style="left:1273px;top:48px;width:101px;height:40px;background:#274e13"></div>
<div style="left:1374px;top:48px;width:101px;height:40px;background:#38761d"></div>
<div style="left:1475px;top:48px;width:102px;height:40px;background:#a7b82b"></div>
<div style="left:1072px;top:88px;width:505px;height:21px;background:#a7b82b"></div>
<i class="wh hs" style="left:1294.4px;top:52px;line-height:17px;font-size:14px;transform:scaleX(0.894)">MONTHLY</i>
<i class="wh hs" style="left:1300.0px;top:68px;line-height:17px;font-size:14px;transform:scaleX(0.838)">BUDGET</i>
<i class="wh hs" style="left:1401.8px;top:52px;line-height:17px;font-size:14px;transform:scaleX(0.836)">YEARLY</i>
<i class="wh hs" style="left:1396.6px;top:68px;line-height:17px;font-size:14px;transform:scaleX(0.921)">AMOUNT</i>
<i class="bk b" style="left:1075.5px;top:70px;line-height:18px;font-size:12.1px;transform:scaleX(1.032)">complete</i><i class="bk b" style="left:1133.6px;top:70px;line-height:18px;font-size:12.1px;transform:scaleX(0.966)">only</i><i class="og b" style="left:1160.9px;top:70px;line-height:18px;font-size:12.1px;transform:scaleX(0.936)">ORANGE</i><i class="bk b" style="left:1213.8px;top:70px;line-height:18px;font-size:12.1px;transform:scaleX(0.923)">fields</i>
<i class="wh b" style="left:1076.0px;top:89px;line-height:21px;font-size:13.49px;transform:scaleX(0.889)">DISCRETIONARY</i><i class="wh b" style="left:1178.4px;top:89px;line-height:21px;font-size:13.49px;transform:scaleX(0.819)">EXPENSES</i>
<div class="oc" style="left:1273px;top:130px;width:101px;height:21px"></div>
<div class="wc" style="left:1374px;top:130px;width:102px;height:21px"></div>
<i class="lab" style="left:1076.0px;top:131px;line-height:21px;font-size:13.49px;transform:scaleX(1.033)">Dining</i><i class="lab" style="left:1119.1px;top:131px;line-height:21px;font-size:13.49px;transform:scaleX(1.086)">Out</i>
<i class="on" style="left:1331.4px;top:131px;line-height:21px;font-size:13.49px;transform:scaleX(0.960)">500.00</i>
<i class="lab" style="left:1421.6px;top:131px;line-height:21px;font-size:13.49px;transform:scaleX(0.960)">6,000.00</i>
<div class="oc" style="left:1273px;top:151px;width:101px;height:21px"></div>
<div class="wc" style="left:1374px;top:151px;width:102px;height:21px"></div>
<i class="lab" style="left:1076.0px;top:152px;line-height:21px;font-size:13.49px;transform:scaleX(1.061)">Concerts</i><i class="lab" style="left:1137.8px;top:152px;line-height:21px;font-size:13.49px;transform:scaleX(1.000)">/</i><i class="lab" style="left:1146.1px;top:152px;line-height:21px;font-size:13.49px;transform:scaleX(0.946)">Plays</i>
<i class="lab" style="left:1446.8px;top:152px;line-height:21px;font-size:13.49px;transform:scaleX(0.960)">0.00</i>
<div class="oc" style="left:1273px;top:172px;width:101px;height:21px"></div>
<div class="wc" style="left:1374px;top:172px;width:102px;height:21px"></div>
<i class="lab" style="left:1076.0px;top:173px;line-height:21px;font-size:13.49px;transform:scaleX(0.955)">Sports</i>
<i class="lab" style="left:1446.8px;top:173px;line-height:21px;font-size:13.49px;transform:scaleX(0.960)">0.00</i>
<div class="oc" style="left:1273px;top:193px;width:101px;height:21px"></div>
<div class="wc" style="left:1374px;top:193px;width:102px;height:21px"></div>
<i class="lab" style="left:1076.0px;top:194px;line-height:21px;font-size:13.49px;transform:scaleX(1.097)">Outdoor</i><i class="lab" style="left:1133.1px;top:194px;line-height:21px;font-size:13.49px;transform:scaleX(1.065)">Recreation</i>
<i class="on" style="left:1338.6px;top:194px;line-height:21px;font-size:13.49px;transform:scaleX(0.960)">80.00</i>
<i class="lab" style="left:1432.4px;top:194px;line-height:21px;font-size:13.49px;transform:scaleX(0.960)">960.00</i>
<div class="oc" style="left:1273px;top:214px;width:101px;height:21px"></div>
<div class="wc" style="left:1374px;top:214px;width:102px;height:21px"></div>
<i class="lab" style="left:1076.0px;top:215px;line-height:21px;font-size:13.49px;transform:scaleX(1.067)">Other</i><i class="lab" style="left:1115.6px;top:215px;line-height:21px;font-size:13.49px;transform:scaleX(1.054)">Enterntainment</i>
<i class="lab" style="left:1446.8px;top:215px;line-height:21px;font-size:13.49px;transform:scaleX(0.960)">0.00</i>
<div class="oc" style="left:1273px;top:235px;width:101px;height:21px"></div>
<div class="wc" style="left:1374px;top:235px;width:102px;height:21px"></div>
<i class="lab" style="left:1076.0px;top:236px;line-height:21px;font-size:13.49px;transform:scaleX(1.071)">Gym</i><i class="lab" style="left:1110.1px;top:236px;line-height:21px;font-size:13.49px;transform:scaleX(1.055)">Membership</i>
<i class="on" style="left:1338.6px;top:236px;line-height:21px;font-size:13.49px;transform:scaleX(0.960)">36.00</i>
<i class="lab" style="left:1432.4px;top:236px;line-height:21px;font-size:13.49px;transform:scaleX(0.960)">432.00</i>
<div class="oc" style="left:1273px;top:256px;width:101px;height:21px"></div>
<div class="wc" style="left:1374px;top:256px;width:102px;height:21px"></div>
<i class="lab" style="left:1076.0px;top:257px;line-height:21px;font-size:13.49px;transform:scaleX(1.097)">Additional</i><i class="lab" style="left:1144.6px;top:257px;line-height:21px;font-size:13.49px;transform:scaleX(1.077)">Clothing</i>
<i class="lab" style="left:1446.8px;top:257px;line-height:21px;font-size:13.49px;transform:scaleX(0.960)">0.00</i>
<div class="oc" style="left:1273px;top:277px;width:101px;height:21px"></div>
<div class="wc" style="left:1374px;top:277px;width:102px;height:21px"></div>
<i class="lab" style="left:1076.0px;top:278px;line-height:21px;font-size:13.49px;transform:scaleX(1.097)">Additional</i><i class="lab" style="left:1144.6px;top:278px;line-height:21px;font-size:13.49px;transform:scaleX(1.048)">Food</i>
<i class="lab" style="left:1446.8px;top:278px;line-height:21px;font-size:13.49px;transform:scaleX(0.960)">0.00</i>
<div class="oc" style="left:1273px;top:298px;width:101px;height:21px"></div>
<div class="wc" style="left:1374px;top:298px;width:102px;height:21px"></div>
<i class="lab" style="left:1076.0px;top:299px;line-height:21px;font-size:13.49px;transform:scaleX(1.057)">Home</i><i class="lab" style="left:1117.6px;top:299px;line-height:21px;font-size:13.49px;transform:scaleX(1.081)">Improvement</i>
<i class="lab" style="left:1446.8px;top:299px;line-height:21px;font-size:13.49px;transform:scaleX(0.960)">0.00</i>
<div class="oc" style="left:1273px;top:319px;width:101px;height:21px"></div>
<div class="wc" style="left:1374px;top:319px;width:102px;height:21px"></div>
<i class="lab" style="left:1076.0px;top:320px;line-height:21px;font-size:13.49px;transform:scaleX(1.057)">Home</i><i class="lab" style="left:1117.6px;top:320px;line-height:21px;font-size:13.49px;transform:scaleX(1.008)">Security</i>
<i class="on" style="left:1338.6px;top:320px;line-height:21px;font-size:13.49px;transform:scaleX(0.960)">46.00</i>
<i class="lab" style="left:1432.4px;top:320px;line-height:21px;font-size:13.49px;transform:scaleX(0.960)">552.00</i>
<div class="oc" style="left:1273px;top:340px;width:101px;height:21px"></div>
<div class="wc" style="left:1374px;top:340px;width:102px;height:21px"></div>
<i class="lab" style="left:1076.0px;top:341px;line-height:21px;font-size:13.49px;transform:scaleX(1.042)">Lawn</i><i class="lab" style="left:1114.2px;top:341px;line-height:21px;font-size:13.49px;transform:scaleX(1.000)">/</i><i class="lab" style="left:1122.5px;top:341px;line-height:21px;font-size:13.49px;transform:scaleX(1.098)">Garden</i>
<i class="lab" style="left:1446.8px;top:341px;line-height:21px;font-size:13.49px;transform:scaleX(0.960)">0.00</i>
<div class="oc" style="left:1273px;top:361px;width:101px;height:21px"></div>
<div class="wc" style="left:1374px;top:361px;width:102px;height:21px"></div>
<i class="lab" style="left:1076.0px;top:362px;line-height:21px;font-size:13.49px;transform:scaleX(1.015)">Pet</i><i class="lab" style="left:1100.2px;top:362px;line-height:21px;font-size:13.49px;transform:scaleX(1.055)">Boarding</i>
<i class="lab" style="left:1446.8px;top:362px;line-height:21px;font-size:13.49px;transform:scaleX(0.960)">0.00</i>
<div class="oc" style="left:1273px;top:382px;width:101px;height:21px"></div>
<div class="wc" style="left:1374px;top:382px;width:102px;height:21px"></div>
<i class="lab" style="left:1076.0px;top:383px;line-height:21px;font-size:13.49px;transform:scaleX(0.993)">Beer</i><i class="lab" style="left:1108.8px;top:383px;line-height:21px;font-size:13.49px;transform:scaleX(1.000)">/</i><i class="lab" style="left:1117.2px;top:383px;line-height:21px;font-size:13.49px;transform:scaleX(1.089)">Alcohol</i>
<i class="lab" style="left:1446.8px;top:383px;line-height:21px;font-size:13.49px;transform:scaleX(0.960)">0.00</i>
<div class="oc" style="left:1273px;top:403px;width:101px;height:21px"></div>
<div class="wc" style="left:1374px;top:403px;width:102px;height:21px"></div>
<i class="lab" style="left:1076.0px;top:404px;line-height:21px;font-size:13.49px;transform:scaleX(1.126)">Tobacco</i>
<i class="lab" style="left:1446.8px;top:404px;line-height:21px;font-size:13.49px;transform:scaleX(0.960)">0.00</i>
<div class="oc" style="left:1273px;top:424px;width:101px;height:21px"></div>
<div class="wc" style="left:1374px;top:424px;width:102px;height:21px"></div>
<i class="lab" style="left:1076.0px;top:425px;line-height:21px;font-size:13.49px;transform:scaleX(1.067)">Other</i><i class="lab" style="left:1115.6px;top:425px;line-height:21px;font-size:13.49px;transform:scaleX(1.065)">Monthly</i><i class="lab" style="left:1169.5px;top:425px;line-height:21px;font-size:13.49px;transform:scaleX(0.990)">Expense</i>
<i class="lab" style="left:1446.8px;top:425px;line-height:21px;font-size:13.49px;transform:scaleX(0.960)">0.00</i>
<div class="oc" style="left:1272px;top:445px;width:101px;height:21px"></div>
<div class="wc" style="left:1373px;top:445px;width:102px;height:21px"></div>
<i class="lab" style="left:1075.0px;top:446px;line-height:21px;font-size:13.49px;transform:scaleX(1.067)">Other</i><i class="lab" style="left:1114.6px;top:446px;line-height:21px;font-size:13.49px;transform:scaleX(1.065)">Monthly</i><i class="lab" style="left:1168.5px;top:446px;line-height:21px;font-size:13.49px;transform:scaleX(0.990)">Expense</i>
<i class="lab" style="left:1445.8px;top:446px;line-height:21px;font-size:13.49px;transform:scaleX(0.960)">0.00</i>
<div class="wc" style="left:1272px;top:466px;width:101px;height:21px"></div>
<div class="oc" style="left:1373px;top:466px;width:101px;height:21px"></div>
<i class="lab" style="left:1075.0px;top:467px;line-height:21px;font-size:13.49px;transform:scaleX(0.990)">Travel</i><i class="lab" style="left:1116.1px;top:467px;line-height:21px;font-size:13.49px;transform:scaleX(1.000)">/</i><i class="lab" style="left:1124.5px;top:467px;line-height:21px;font-size:13.49px;transform:scaleX(1.141)">Vacation</i>
<i class="lab" style="left:1330.4px;top:467px;line-height:21px;font-size:13.49px;transform:scaleX(0.960)">266.67</i>
<i class="on" style="left:1420.6px;top:467px;line-height:21px;font-size:13.49px;transform:scaleX(0.960)">3,200.00</i>
<div class="wc" style="left:1272px;top:487px;width:101px;height:21px"></div>
<div class="oc" style="left:1373px;top:487px;width:101px;height:21px"></div>
<i class="lab" style="left:1075.0px;top:488px;line-height:21px;font-size:13.49px;transform:scaleX(1.067)">Other</i><i class="lab" style="left:1114.6px;top:488px;line-height:21px;font-size:13.49px;transform:scaleX(1.011)">Yearly</i><i class="lab" style="left:1155.6px;top:488px;line-height:21px;font-size:13.49px;transform:scaleX(0.990)">Expense</i>
<i class="lab" style="left:1344.8px;top:488px;line-height:21px;font-size:13.49px;transform:scaleX(0.960)">0.00</i>
<div class="wc" style="left:1272px;top:508px;width:101px;height:21px"></div>
<div class="oc" style="left:1373px;top:508px;width:101px;height:21px"></div>
<i class="lab" style="left:1075.0px;top:509px;line-height:21px;font-size:13.49px;transform:scaleX(1.067)">Other</i><i class="lab" style="left:1114.6px;top:509px;line-height:21px;font-size:13.49px;transform:scaleX(1.011)">Yearly</i><i class="lab" style="left:1155.6px;top:509px;line-height:21px;font-size:13.49px;transform:scaleX(0.990)">Expense</i>
<i class="lab" style="left:1344.8px;top:509px;line-height:21px;font-size:13.49px;transform:scaleX(0.960)">0.00</i>
<div style="left:1272px;top:529px;width:202px;height:21px;background:#d8e69f"></div>
<i class="lab" style="left:1330.4px;top:530px;line-height:21px;font-size:13.49px;transform:scaleX(0.960)">928.67</i>
<i class="lab" style="left:1413.4px;top:530px;line-height:21px;font-size:13.49px;transform:scaleX(0.977)">11,144.00</i>
<div style="left:1071px;top:572px;width:505px;height:20px;background:#a7b82b"></div>
<i class="wh b" style="left:1075.0px;top:572px;line-height:20px;font-size:13.49px;transform:scaleX(0.862)">INVESTMENT</i><i class="wh b" style="left:1153.5px;top:572px;line-height:20px;font-size:13.49px;transform:scaleX(0.819)">EXPENSES</i><i class="wh b" style="left:1217.2px;top:572px;line-height:20px;font-size:13.49px;transform:scaleX(1.000)">-</i><i class="wh b" style="left:1225.8px;top:572px;line-height:20px;font-size:13.49px;transform:scaleX(0.871)">FIXED</i>
<div class="oc" style="left:1272px;top:613px;width:101px;height:21px"></div>
<div class="wc" style="left:1373px;top:613px;width:102px;height:21px"></div>
<i class="lab" style="left:1075.0px;top:614px;line-height:21px;font-size:13.49px;transform:scaleX(1.051)">Employee</i><i class="lab" style="left:1141.6px;top:614px;line-height:21px;font-size:13.49px;transform:scaleX(1.018)">Stock</i><i class="lab" style="left:1179.5px;top:614px;line-height:21px;font-size:13.49px;transform:scaleX(0.953)">Plans</i><i class="lab" style="left:1215.3px;top:614px;line-height:21px;font-size:13.49px;transform:scaleX(0.960)">1</i>
<i class="lab" style="left:1445.8px;top:614px;line-height:21px;font-size:13.49px;transform:scaleX(0.960)">0.00</i>
<div class="oc" style="left:1272px;top:634px;width:101px;height:21px"></div>
<div class="wc" style="left:1373px;top:634px;width:102px;height:21px"></div>
<i class="lab" style="left:1075.0px;top:635px;line-height:21px;font-size:13.49px;transform:scaleX(1.051)">Employee</i><i class="lab" style="left:1141.6px;top:635px;line-height:21px;font-size:13.49px;transform:scaleX(1.018)">Stock</i><i class="lab" style="left:1179.5px;top:635px;line-height:21px;font-size:13.49px;transform:scaleX(0.953)">Plans</i><i class="lab" style="left:1215.3px;top:635px;line-height:21px;font-size:13.49px;transform:scaleX(0.960)">2</i>
<i class="lab" style="left:1445.8px;top:635px;line-height:21px;font-size:13.49px;transform:scaleX(0.960)">0.00</i>
<div class="oc" style="left:1272px;top:655px;width:101px;height:21px"></div>
<div class="wc" style="left:1373px;top:655px;width:102px;height:21px"></div>
<i class="lab" style="left:1075.0px;top:656px;line-height:21px;font-size:13.49px;transform:scaleX(1.042)">Brokerage</i><i class="lab" style="left:1143.5px;top:656px;line-height:21px;font-size:13.49px;transform:scaleX(1.018)">Deposites</i>
<i class="lab" style="left:1445.8px;top:656px;line-height:21px;font-size:13.49px;transform:scaleX(0.960)">0.00</i>
<div class="oc" style="left:1272px;top:676px;width:101px;height:21px"></div>
<div class="wc" style="left:1373px;top:676px;width:102px;height:21px"></div>
<i class="lab" style="left:1075.0px;top:677px;line-height:21px;font-size:13.49px;transform:scaleX(0.930)">401K</i><i class="lab" style="left:1107.9px;top:677px;line-height:21px;font-size:13.49px;transform:scaleX(1.018)">Deposites</i>
<i class="on" style="left:1319.6px;top:677px;line-height:21px;font-size:13.49px;transform:scaleX(0.960)">1,500.00</i>
<i class="lab" style="left:1413.4px;top:677px;line-height:21px;font-size:13.49px;transform:scaleX(0.960)">18,000.00</i>
<div class="oc" style="left:1272px;top:697px;width:101px;height:21px"></div>
<div class="wc" style="left:1373px;top:697px;width:102px;height:21px"></div>
<i class="lab" style="left:1075.0px;top:698px;line-height:21px;font-size:13.49px;transform:scaleX(1.067)">Other</i><i class="lab" style="left:1114.6px;top:698px;line-height:21px;font-size:13.49px;transform:scaleX(1.065)">Monthly</i><i class="lab" style="left:1168.5px;top:698px;line-height:21px;font-size:13.49px;transform:scaleX(1.051)">Spending</i>
<i class="lab" style="left:1445.8px;top:698px;line-height:21px;font-size:13.49px;transform:scaleX(0.960)">0.00</i>
<div class="oc" style="left:1272px;top:718px;width:101px;height:21px"></div>
<div class="wc" style="left:1373px;top:718px;width:102px;height:21px"></div>
<i class="lab" style="left:1075.0px;top:719px;line-height:21px;font-size:13.49px;transform:scaleX(1.067)">Other</i><i class="lab" style="left:1114.6px;top:719px;line-height:21px;font-size:13.49px;transform:scaleX(1.065)">Monthly</i><i class="lab" style="left:1168.5px;top:719px;line-height:21px;font-size:13.49px;transform:scaleX(1.051)">Spending</i>
<i class="lab" style="left:1445.8px;top:719px;line-height:21px;font-size:13.49px;transform:scaleX(0.960)">0.00</i>
<div class="wc" style="left:1272px;top:739px;width:101px;height:21px"></div>
<div class="oc" style="left:1373px;top:739px;width:101px;height:21px"></div>
<i class="lab" style="left:1075.0px;top:740px;line-height:21px;font-size:13.49px;transform:scaleX(0.909)">IRA</i><i class="lab" style="left:1099.0px;top:740px;line-height:21px;font-size:13.49px;transform:scaleX(1.052)">Deposite</i>
<i class="lab" style="left:1344.8px;top:740px;line-height:21px;font-size:13.49px;transform:scaleX(0.960)">0.00</i>
<div class="wc" style="left:1272px;top:760px;width:101px;height:21px"></div>
<div class="oc" style="left:1373px;top:760px;width:101px;height:21px"></div>
<i class="lab" style="left:1075.0px;top:761px;line-height:21px;font-size:13.49px;transform:scaleX(1.067)">Other</i><i class="lab" style="left:1114.6px;top:761px;line-height:21px;font-size:13.49px;transform:scaleX(1.011)">Yearly</i><i class="lab" style="left:1155.6px;top:761px;line-height:21px;font-size:13.49px;transform:scaleX(1.051)">Spending</i>
<i class="lab" style="left:1344.8px;top:761px;line-height:21px;font-size:13.49px;transform:scaleX(0.960)">0.00</i>
<div class="wc" style="left:1272px;top:781px;width:101px;height:21px"></div>
<div class="oc" style="left:1373px;top:781px;width:101px;height:21px"></div>
<i class="lab" style="left:1075.0px;top:782px;line-height:21px;font-size:13.49px;transform:scaleX(1.067)">Other</i><i class="lab" style="left:1114.6px;top:782px;line-height:21px;font-size:13.49px;transform:scaleX(1.011)">Yearly</i><i class="lab" style="left:1155.6px;top:782px;line-height:21px;font-size:13.49px;transform:scaleX(1.051)">Spending</i>
<i class="lab" style="left:1344.8px;top:782px;line-height:21px;font-size:13.49px;transform:scaleX(0.960)">0.00</i>
<div style="left:1272px;top:802px;width:202px;height:21px;background:#d8e69f"></div>
<i class="lab" style="left:1319.6px;top:803px;line-height:21px;font-size:13.49px;transform:scaleX(0.960)">1,500.00</i>
<i class="lab" style="left:1413.4px;top:803px;line-height:21px;font-size:13.49px;transform:scaleX(0.960)">18,000.00</i>
<div style="left:1071px;top:844px;width:303px;height:22px;background:#d0e07c"></div>
<div style="left:1373px;top:844px;width:101px;height:22px;background:#dce8a2"></div>
<div style="left:1474px;top:844px;width:102px;height:22px;background:#a7b82b"></div>
<i class="bk b" style="left:1143.9px;top:845px;line-height:21px;font-size:13.49px;transform:scaleX(0.851)">TOTAL</i><i class="bk b" style="left:1184.8px;top:845px;line-height:21px;font-size:13.49px;transform:scaleX(0.803)">ALL</i><i class="bk b" style="left:1209.5px;top:845px;line-height:21px;font-size:13.49px;transform:scaleX(0.819)">EXPENSES</i>
<i class="bk b" style="left:1319.0px;top:845px;line-height:21px;font-size:13.49px;transform:scaleX(0.971)">8,688.00</i>
<i class="bk b" style="left:1405.5px;top:845px;line-height:21px;font-size:13.49px;transform:scaleX(0.971)">104,256.00</i>
</body></html>
